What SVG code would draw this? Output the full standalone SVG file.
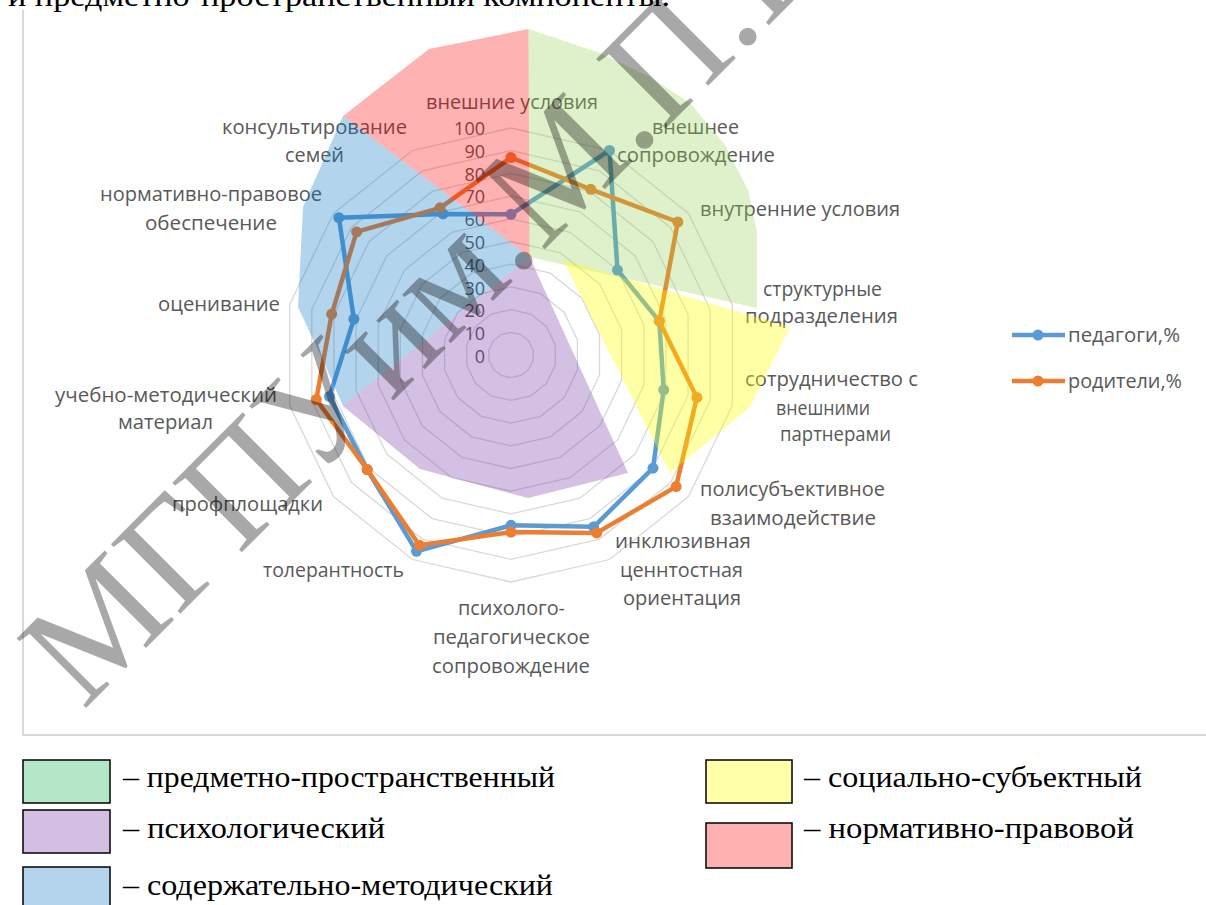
<svg xmlns="http://www.w3.org/2000/svg" xmlns:xlink="http://www.w3.org/1999/xlink" width="1206" height="905" viewBox="0 0 1206 905">
<style>
.lbl{font-family:"Open Sans","Noto Sans",sans-serif;font-size:20px;fill:#595959}
.num{font-family:"Open Sans","Noto Sans",sans-serif;font-size:18px;fill:#595959;text-anchor:end}
.ring{fill:none;stroke:#d9d9d9;stroke-width:1.3}
.ser{fill:none;stroke-width:4.5;stroke-linejoin:round}
.ov{stroke:none}
.lg{font-family:"Liberation Serif","Times New Roman",serif;font-size:29px;fill:#000}
.box{stroke:#000;stroke-width:1.5}
</style>
<defs>
<polygon id="ring" points="0,-100 43.388,-90.097 78.183,-62.349 97.493,-22.252 97.493,22.252 78.183,62.349 43.388,90.097 0,100 -43.388,90.097 -78.183,62.349 -97.493,22.252 -97.493,-22.252 -78.183,-62.349 -43.388,-90.097" vector-effect="non-scaling-stroke"/>
<circle id="mb" r="5.5" fill="#5b9bd5"/>
<circle id="mo" r="5.5" fill="#ed7d31"/>
</defs>
<rect width="1206" height="905" fill="#fff"/>
<text class="lg" x="8" y="6" textLength="662" lengthAdjust="spacingAndGlyphs">и предметно-пространственный компоненты.</text>
<g id="frame" stroke="#d9d9d9" stroke-width="2" fill="none">
<line x1="23" y1="10" x2="23" y2="735"/>
<line x1="22" y1="735" x2="1206" y2="735"/>
</g>
<g id="grid" class="ring">
<use xlink:href="#ring" href="#ring" transform="translate(511,355) scale(0.227)"/>
<use xlink:href="#ring" href="#ring" transform="translate(511,355) scale(0.454)"/>
<use xlink:href="#ring" href="#ring" transform="translate(511,355) scale(0.681)"/>
<use xlink:href="#ring" href="#ring" transform="translate(511,355) scale(0.908)"/>
<use xlink:href="#ring" href="#ring" transform="translate(511,355) scale(1.135)"/>
<use xlink:href="#ring" href="#ring" transform="translate(511,355) scale(1.362)"/>
<use xlink:href="#ring" href="#ring" transform="translate(511,355) scale(1.589)"/>
<use xlink:href="#ring" href="#ring" transform="translate(511,355) scale(1.816)"/>
<use xlink:href="#ring" href="#ring" transform="translate(511,355) scale(2.043)"/>
<use xlink:href="#ring" href="#ring" transform="translate(511,355) scale(2.27)"/>
</g>
<g id="scale">
<text class="num" x="485" y="363">0</text>
<text class="num" x="485" y="340">10</text>
<text class="num" x="485" y="317">20</text>
<text class="num" x="485" y="295">30</text>
<text class="num" x="485" y="272">40</text>
<text class="num" x="485" y="249">50</text>
<text class="num" x="485" y="226">60</text>
<text class="num" x="485" y="203">70</text>
<text class="num" x="485" y="181">80</text>
<text class="num" x="485" y="158">90</text>
<text class="num" x="485" y="135">100</text>
</g>
<g id="series-teachers">
<polygon class="ser" stroke="#5b9bd5" points="511,214.3 609.5,150.5 617.5,270.1 659.3,321.2 663.7,389.9 653,468.2 593.7,526.8 511,525.3 416.5,551.3 367.2,469.6 329.5,396.4 353.9,319.1 338.9,217.7 443,213.9"/>
<use href="#mb" xlink:href="#mb" x="511" y="214.3"/><use href="#mb" xlink:href="#mb" x="609.5" y="150.5"/><use href="#mb" xlink:href="#mb" x="617.5" y="270.1"/><use href="#mb" xlink:href="#mb" x="659.3" y="321.2"/><use href="#mb" xlink:href="#mb" x="663.7" y="389.9"/><use href="#mb" xlink:href="#mb" x="653" y="468.2"/><use href="#mb" xlink:href="#mb" x="593.7" y="526.8"/><use href="#mb" xlink:href="#mb" x="511" y="525.3"/><use href="#mb" xlink:href="#mb" x="416.5" y="551.3"/><use href="#mb" xlink:href="#mb" x="367.2" y="469.6"/><use href="#mb" xlink:href="#mb" x="329.5" y="396.4"/><use href="#mb" xlink:href="#mb" x="353.9" y="319.1"/><use href="#mb" xlink:href="#mb" x="338.9" y="217.7"/><use href="#mb" xlink:href="#mb" x="443" y="213.9"/>
</g>
<g id="series-parents">
<polygon class="ser" stroke="#ed7d31" points="511,157.5 590.8,189.3 677.8,222 659.3,321.2 696.9,397.4 676.1,486.6 596.7,532.9 511,532.1 419.4,545.2 367.2,469.6 316.3,399.5 331.7,314.1 356.6,231.9 440.1,207.8"/>
<use href="#mo" xlink:href="#mo" x="511" y="157.5"/><use href="#mo" xlink:href="#mo" x="590.8" y="189.3"/><use href="#mo" xlink:href="#mo" x="677.8" y="222"/><use href="#mo" xlink:href="#mo" x="659.3" y="321.2"/><use href="#mo" xlink:href="#mo" x="696.9" y="397.4"/><use href="#mo" xlink:href="#mo" x="676.1" y="486.6"/><use href="#mo" xlink:href="#mo" x="596.7" y="532.9"/><use href="#mo" xlink:href="#mo" x="511" y="532.1"/><use href="#mo" xlink:href="#mo" x="419.4" y="545.2"/><use href="#mo" xlink:href="#mo" x="367.2" y="469.6"/><use href="#mo" xlink:href="#mo" x="316.3" y="399.5"/><use href="#mo" xlink:href="#mo" x="331.7" y="314.1"/><use href="#mo" xlink:href="#mo" x="356.6" y="231.9"/><use href="#mo" xlink:href="#mo" x="440.1" y="207.8"/>
</g>
<g id="axis-labels" class="lbl">
<text x="426" y="109" textLength="172" lengthAdjust="spacingAndGlyphs">внешние условия</text>
<text x="652" y="134" textLength="87" lengthAdjust="spacingAndGlyphs">внешнее</text>
<text x="617" y="162" textLength="158" lengthAdjust="spacingAndGlyphs">сопровождение</text>
<text x="700" y="216" textLength="200" lengthAdjust="spacingAndGlyphs">внутренние условия</text>
<text x="763" y="296" textLength="119" lengthAdjust="spacingAndGlyphs">структурные</text>
<text x="745" y="323" textLength="153" lengthAdjust="spacingAndGlyphs">подразделения</text>
<text x="745" y="386" textLength="173" lengthAdjust="spacingAndGlyphs">сотрудничество с</text>
<text x="776" y="415" textLength="94" lengthAdjust="spacingAndGlyphs">внешними</text>
<text x="780" y="441" textLength="111" lengthAdjust="spacingAndGlyphs">партнерами</text>
<text x="700" y="496" textLength="185" lengthAdjust="spacingAndGlyphs">полисубъективное</text>
<text x="710" y="525" textLength="166" lengthAdjust="spacingAndGlyphs">взаимодействие</text>
<text x="615" y="548" textLength="136" lengthAdjust="spacingAndGlyphs">инклюзивная</text>
<text x="620" y="577" textLength="123" lengthAdjust="spacingAndGlyphs">ценнтостная</text>
<text x="623" y="605" textLength="118" lengthAdjust="spacingAndGlyphs">ориентация</text>
<text x="458" y="615" textLength="107" lengthAdjust="spacingAndGlyphs">психолого-</text>
<text x="433" y="644" textLength="157" lengthAdjust="spacingAndGlyphs">педагогическое</text>
<text x="432" y="673" textLength="158" lengthAdjust="spacingAndGlyphs">сопровождение</text>
<text x="263" y="577" textLength="141" lengthAdjust="spacingAndGlyphs">толерантность</text>
<text x="172" y="511" textLength="151" lengthAdjust="spacingAndGlyphs">профплощадки</text>
<text x="55" y="402" textLength="222" lengthAdjust="spacingAndGlyphs">учебно-методический</text>
<text x="118" y="429" textLength="95" lengthAdjust="spacingAndGlyphs">материал</text>
<text x="158" y="311" textLength="122" lengthAdjust="spacingAndGlyphs">оценивание</text>
<text x="100" y="201" textLength="222" lengthAdjust="spacingAndGlyphs">нормативно-правовое</text>
<text x="145" y="230" textLength="132" lengthAdjust="spacingAndGlyphs">обеспечение</text>
<text x="222" y="134" textLength="185" lengthAdjust="spacingAndGlyphs">консультирование</text>
<text x="285" y="162" textLength="59" lengthAdjust="spacingAndGlyphs">семей</text>
</g>
<g id="chart-legend">
<line x1="1012" y1="335" x2="1065" y2="335" stroke="#5b9bd5" stroke-width="4.5"/>
<use href="#mb" xlink:href="#mb" x="1038" y="335"/>
<text class="lbl" x="1068" y="342" textLength="112" lengthAdjust="spacingAndGlyphs">педагоги,%</text>
<line x1="1012" y1="381" x2="1065" y2="381" stroke="#ed7d31" stroke-width="4.5"/>
<use href="#mo" xlink:href="#mo" x="1038" y="381"/>
<text class="lbl" x="1068" y="388" textLength="114" lengthAdjust="spacingAndGlyphs">родители,%</text>
</g>
<g id="overlays" class="ov">
<polygon id="ov-pink" fill="#ff0000" fill-opacity="0.3" points="528.5,29 429,49 343,116 529.5,257"/>
<polygon id="ov-green" fill="#92d050" fill-opacity="0.3" points="528.5,29 600,53 650,77 690,103 725,145 748,190 757,232 757,308 529.5,257"/>
<polygon id="ov-blue" fill="#0070c0" fill-opacity="0.3" points="343,116 303,207 298,307 325,365 343,406 529.5,257"/>
<polygon id="ov-purple" fill="#7030a0" fill-opacity="0.3" points="529.5,257 628,473 528,498 420,469 343,406"/>
<polygon id="ov-yellow" fill="#ffff00" fill-opacity="0.35" points="563,260 790,327 750,407 670,473"/>
</g>
<g id="watermark">
<text x="0" y="0" transform="translate(83,711) rotate(-45)" font-family="Liberation Serif, Times New Roman, serif" font-size="150" word-spacing="-36" fill="#000" fill-opacity="0.34">МГПУ им.М.П.Ш</text>
</g>
<g id="legend">
<rect class="box" x="23" y="760" width="87" height="43" fill="#b4e6c8"/>
<text class="lg" x="123" y="787" textLength="432" lengthAdjust="spacingAndGlyphs">– предметно-пространственный</text>
<rect class="box" x="23" y="810" width="87" height="43" fill="#d4bee4"/>
<text class="lg" x="123" y="838" textLength="262" lengthAdjust="spacingAndGlyphs">– психологический</text>
<rect class="box" x="23" y="867" width="87" height="45" fill="#b4d4ee"/>
<text class="lg" x="123" y="895" textLength="430" lengthAdjust="spacingAndGlyphs">– содержательно-методический</text>
<rect class="box" x="706" y="760" width="86" height="43" fill="#ffffaa"/>
<text class="lg" x="804" y="787" textLength="338" lengthAdjust="spacingAndGlyphs">– социально-субъектный</text>
<rect class="box" x="706" y="823" width="86" height="45" fill="#ffb0b0"/>
<text class="lg" x="804" y="838" textLength="330" lengthAdjust="spacingAndGlyphs">– нормативно-правовой</text>
</g>
</svg>
